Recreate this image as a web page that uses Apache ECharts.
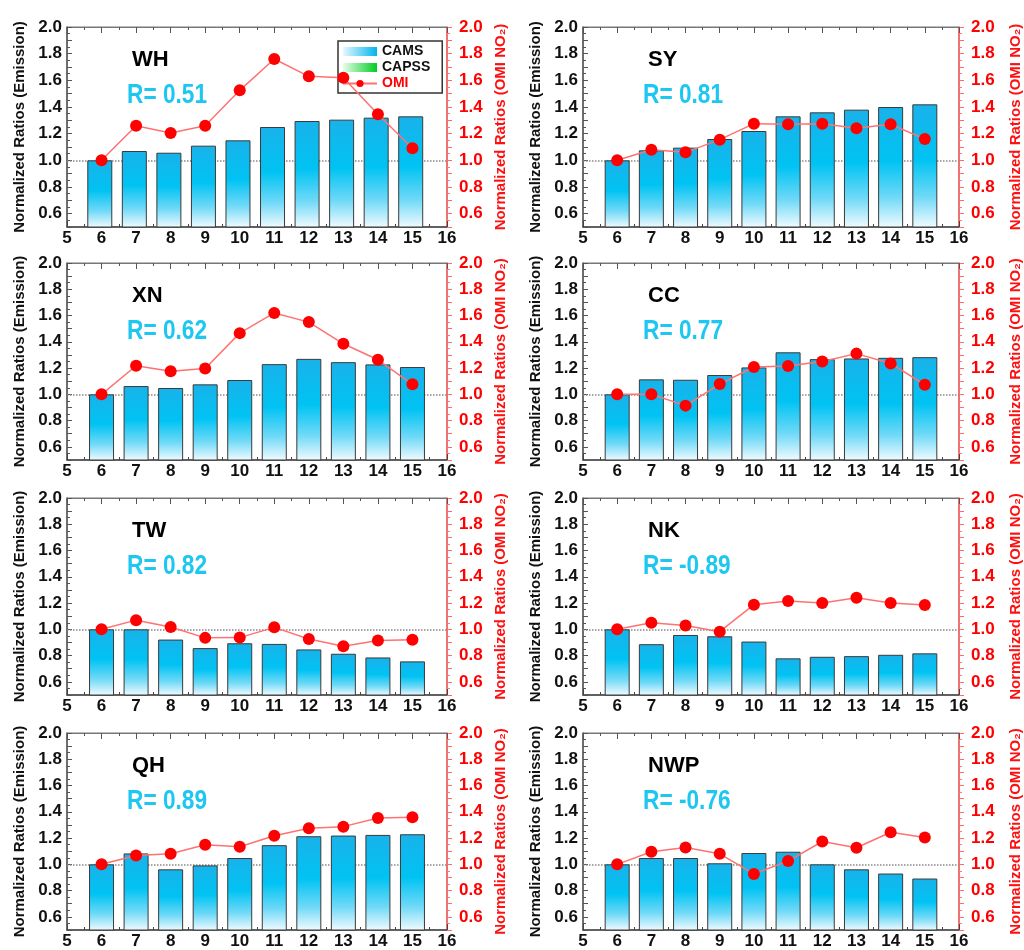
<!DOCTYPE html>
<html>
<head>
<meta charset="utf-8">
<script src="https://cdn.jsdelivr.net/npm/echarts@6/dist/echarts.min.js"></script>
<style>
html,body{margin:0;padding:0;background:#fff;}
#main{width:1024px;height:950px;}
</style>
</head>
<body>
<div id="main"></div>
<script>
// ---- data ----
const months = [6, 7, 8, 9, 10, 11, 12, 13, 14, 15];
const regionNames = ['WH', 'SY', 'XN', 'CC', 'TW', 'NK', 'QH', 'NWP'];
const rLabels = ['R= 0.51', 'R= 0.81', 'R= 0.62', 'R= 0.77', 'R= 0.82', 'R= -0.89', 'R= 0.89', 'R= -0.76'];
const refLevel = 1.0;

const camsWH  = [1.00, 1.07, 1.057, 1.11, 1.15, 1.25, 1.295, 1.305, 1.32, 1.33];
const omiWH   = [1.00, 1.26, 1.205, 1.26, 1.525, 1.76, 1.63, 1.62, 1.345, 1.09];
const camsSY  = [1.00, 1.075, 1.095, 1.16, 1.22, 1.33, 1.36, 1.38, 1.40, 1.42];
const omiSY   = [1.00, 1.08, 1.06, 1.155, 1.275, 1.27, 1.275, 1.24, 1.27, 1.16];
const camsXN  = [1.00, 1.063, 1.048, 1.076, 1.109, 1.23, 1.27, 1.245, 1.228, 1.208];
const omiXN   = [1.00, 1.218, 1.175, 1.197, 1.466, 1.62, 1.55, 1.385, 1.263, 1.076];
const camsCC  = [1.00, 1.114, 1.111, 1.147, 1.205, 1.32, 1.268, 1.273, 1.278, 1.283];
const omiCC   = [1.00, 1.00, 0.914, 1.078, 1.208, 1.215, 1.25, 1.31, 1.235, 1.073];
const camsTW  = [1.00, 1.00, 0.922, 0.857, 0.894, 0.889, 0.847, 0.814, 0.786, 0.756];
const omiTW   = [1.00, 1.07, 1.018, 0.935, 0.937, 1.015, 0.927, 0.872, 0.915, 0.92];
const camsNK  = [1.00, 0.887, 0.957, 0.947, 0.907, 0.779, 0.791, 0.796, 0.806, 0.817];
const omiNK   = [1.00, 1.05, 1.03, 0.982, 1.188, 1.216, 1.20, 1.24, 1.20, 1.186];
const camsQH  = [1.00, 1.083, 0.962, 0.992, 1.048, 1.146, 1.214, 1.219, 1.224, 1.229];
const omiQH   = [1.00, 1.068, 1.08, 1.149, 1.134, 1.217, 1.275, 1.287, 1.353, 1.358];
const camsNWP = [1.00, 1.048, 1.048, 1.008, 1.086, 1.096, 1.00, 0.962, 0.93, 0.892];
const omiNWP  = [1.00, 1.096, 1.128, 1.08, 0.927, 1.025, 1.174, 1.126, 1.244, 1.204];

const camsList = [camsWH, camsSY, camsXN, camsCC, camsTW, camsNK, camsQH, camsNWP];
const omiList  = [omiWH, omiSY, omiXN, omiCC, omiTW, omiNK, omiQH, omiNWP];

// ---- layout ----
const colLeft = [67, 583];
const colWidth = [380, 377];
const rightNameGap = [46, 49];
const rowTop = [27, 263, 498, 733];
const rowHeight = [200, 197, 197, 197];

const FONT = "'Liberation Sans', Arial, Helvetica, sans-serif";

const barGrad = new echarts.graphic.LinearGradient(0, 0, 0, 1, [
  {offset: 0, color: '#19b2ea'},
  {offset: 0.45, color: '#00c3f3'},
  {offset: 0.75, color: '#6fd9f7'},
  {offset: 1, color: '#f2fbff'}
]);
const legBlue = new echarts.graphic.LinearGradient(0, 0, 1, 0, [
  {offset: 0, color: '#e6f8ff'},
  {offset: 1, color: '#00b4ee'}
]);
const legGreen = new echarts.graphic.LinearGradient(0, 0, 1, 0, [
  {offset: 0, color: '#e6ffe9'},
  {offset: 1, color: '#00cc22'}
]);

const yLabelFmt = v => {
  const t = Math.round(v * 10);
  return t % 2 === 0 ? (t / 10).toFixed(1) : '';
};

const grids = [], xAxes = [], yAxes = [], series = [], titles = [], graphics = [];

regionNames.forEach((name, i) => {
  const c = i % 2, r = Math.floor(i / 2);
  const L = colLeft[c], T = rowTop[r];
  grids.push({left: L, top: T, width: colWidth[c], height: rowHeight[r],
    show: true, borderColor: '#777', borderWidth: 1, backgroundColor: 'transparent'});

  xAxes.push({
    gridIndex: i, type: 'value', min: 5, max: 16, interval: 1, position: 'bottom',
    axisLine: {show: true, onZero: false, lineStyle: {color: '#444', width: 1.5}},
    axisTick: {show: true, inside: true, length: 6, lineStyle: {color: '#444', width: 1}},
    minorTick: {show: true, splitNumber: 2, length: 3, lineStyle: {color: '#444'}},
    axisLabel: {show: true, margin: 3, color: '#111', fontSize: 17, fontWeight: 'bold', fontFamily: FONT},
    splitLine: {show: false}, minorSplitLine: {show: false}
  });
  xAxes.push({
    gridIndex: i, type: 'value', min: 5, max: 16, interval: 1, position: 'top',
    axisLine: {show: true, onZero: false, lineStyle: {color: '#777', width: 1}},
    axisTick: {show: true, inside: true, length: 6, lineStyle: {color: '#555'}},
    minorTick: {show: true, splitNumber: 2, length: 3, lineStyle: {color: '#555'}},
    axisLabel: {show: false}, splitLine: {show: false}
  });

  yAxes.push({
    gridIndex: i, type: 'value', min: 0.5, max: 2.0, interval: 0.1, position: 'left',
    name: 'Normalized Ratios (Emission)', nameLocation: 'middle', nameGap: 40, nameRotate: 90,
    nameTextStyle: {color: '#111', fontSize: 15, fontWeight: 'bold', fontFamily: FONT},
    axisLine: {show: true, onZero: false, lineStyle: {color: '#555', width: 1.5}},
    axisTick: {show: true, inside: true, length: 5, lineStyle: {color: '#555'}},
    minorTick: {show: true, splitNumber: 2, length: 3, lineStyle: {color: '#555'}},
    axisLabel: {show: true, margin: 5, color: '#111', fontSize: 17, fontWeight: 'bold', fontFamily: FONT, formatter: yLabelFmt},
    splitLine: {show: false}, minorSplitLine: {show: false}
  });
  yAxes.push({
    gridIndex: i, type: 'value', min: 0.5, max: 2.0, interval: 0.1, position: 'right',
    name: 'Normalized Ratios (OMI NO\u2082)', nameLocation: 'middle', nameGap: rightNameGap[c], nameRotate: 90,
    nameTextStyle: {color: '#ff1010', fontSize: 15, fontWeight: 'bold', fontFamily: FONT},
    axisLine: {show: true, onZero: false, lineStyle: {color: '#ff5a5a', width: 1.5}},
    axisTick: {show: true, inside: false, length: 5, lineStyle: {color: '#ff6a6a'}},
    minorTick: {show: true, splitNumber: 2, length: 3, lineStyle: {color: '#ff7a7a'}},
    axisLabel: {show: true, margin: 12, color: '#ff0000', fontSize: 17, fontWeight: 'bold', fontFamily: FONT, formatter: yLabelFmt},
    splitLine: {show: false}, minorSplitLine: {show: false}
  });

  series.push({
    type: 'bar', name: 'CAMS', xAxisIndex: 2 * i, yAxisIndex: 2 * i,
    data: months.map((m, k) => [m, camsList[i][k]]),
    barWidth: 25, clip: true,
    itemStyle: {color: barGrad, borderColor: '#3a3a3a', borderWidth: 1},
    z: 2,
    markLine: {
      silent: true, symbol: 'none', animation: false, z: 1,
      label: {show: false},
      lineStyle: {color: '#888', type: 'dotted', width: 1.5},
      data: [{yAxis: refLevel}]
    }
  });
  series.push({
    type: 'line', name: 'OMI', xAxisIndex: 2 * i, yAxisIndex: 2 * i + 1,
    data: months.map((m, k) => [m, omiList[i][k]]),
    symbol: 'circle', symbolSize: 12,
    itemStyle: {color: '#ff0000'},
    lineStyle: {color: '#ff7272', width: 1.5},
    z: 4
  });

  titles.push({text: name, left: L + 60, top: T + 17,
    textStyle: {color: '#000', fontSize: 22, fontWeight: 'bold', fontFamily: FONT}});
  graphics.push({
    type: 'text', x: L + 60, y: T + 68, scaleX: 0.81, z: 10,
    style: {text: rLabels[i], fill: '#1ec6f2', font: "bold 28px " + FONT,
      textVerticalAlign: 'middle', verticalAlign: 'middle'}
  });
});

series.push({type: 'bar', name: 'CAPSS', xAxisIndex: 0, yAxisIndex: 0, data: [],
  itemStyle: {color: legGreen}});

const option = {
  animation: false,
  backgroundColor: '#fff',
  title: titles,
  graphic: graphics,
  grid: grids,
  xAxis: xAxes,
  yAxis: yAxes,
  legend: {
    left: 338, top: 41, orient: 'vertical', selectedMode: false,
    itemWidth: 34, itemHeight: 9, itemGap: 1,
    padding: [3, 12, 2, 4],
    borderColor: '#333', borderWidth: 1.5, backgroundColor: 'transparent',
    textStyle: {color: '#111', fontSize: 14, fontWeight: 'bold', fontFamily: FONT, lineHeight: 15},
    data: [
      {name: 'CAMS', icon: 'rect', itemStyle: {color: legBlue, borderWidth: 0}},
      {name: 'CAPSS', icon: 'rect', itemStyle: {color: legGreen, borderWidth: 0}},
      {name: 'OMI', textStyle: {color: '#ff0000'}}
    ]
  },
  series: series
};

const chart = echarts.init(document.getElementById('main'), null, {renderer: 'canvas'});
chart.setOption(option);
</script>
</body>
</html>
